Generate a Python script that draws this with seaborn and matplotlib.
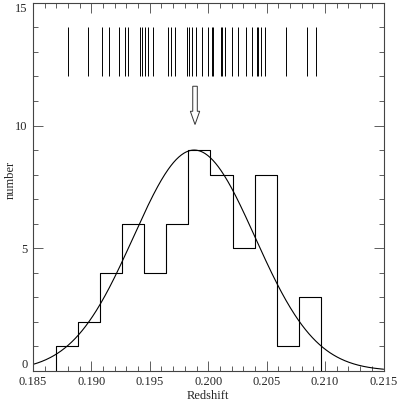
import numpy as np
import pandas as pd
import seaborn as sns
import matplotlib.pyplot as plt
from matplotlib.ticker import MultipleLocator, FormatStrFormatter

# histogram of redshifts (bin edges + counts)
bin_start = 0.18694
bin_width = 0.001893
counts = [1, 2, 4, 6, 4, 6, 9, 8, 5, 8, 1, 3]

# individual galaxy redshifts shown as ticks at the top
rug_z = [0.18797, 0.18973, 0.19093, 0.19153, 0.19239, 0.19288, 0.19311,
         0.19414, 0.19436, 0.19462, 0.19482, 0.19525, 0.19653, 0.19684,
         0.19713, 0.19821, 0.19838, 0.19859, 0.19896, 0.19944, 0.19997,
         0.20030, 0.20044, 0.20107, 0.20116, 0.20146, 0.20206, 0.20253,
         0.20319, 0.20371, 0.20415, 0.20429, 0.20450, 0.20486, 0.20662,
         0.20849, 0.20923]

# gaussian fit
g_mean = 0.1988
g_sigma = 0.0052
g_amp = 9.0

y_ticks = [0, 5, 10, 15]

edges = bin_start + bin_width * np.arange(len(counts) + 1)
hist_df = pd.DataFrame({"z": (edges[:-1] + edges[1:]) / 2, "n": counts})

zz = np.linspace(0.185, 0.215, 400)
fit_df = pd.DataFrame({"z": zz, "n": g_amp * np.exp(-(zz - g_mean) ** 2 / (2 * g_sigma ** 2))})

sns.set_style("ticks")
plt.rcParams["font.family"] = ["Liberation Serif", "DejaVu Serif"]

fig = plt.figure(figsize=(3.97, 4.01), dpi=100)
ax = fig.add_axes([0.083, 0.075, 0.883, 0.918])

sns.histplot(data=hist_df, x="z", weights="n", bins=list(edges), element="step",
             fill=False, color="black", linewidth=0.8, ax=ax)
# close the outline down to zero at both ends
ax.vlines([edges[0], edges[-1]], 0, [counts[0], counts[-1]], color="black", linewidth=0.8)
sns.lineplot(data=fit_df, x="z", y="n", color="black", linewidth=0.8, ax=ax)

ax.vlines(rug_z, 12, 14, color="black", linewidth=0.7)
ax.arrow(g_mean + 0.00007, 11.6, 0, -1.56, width=0.00039, head_width=0.0008,
         head_length=0.54, fill=False, edgecolor="#333333", linewidth=0.7,
         length_includes_head=True)

ax.set_xlim(0.185, 0.215)
ax.set_ylim(0, 15)
ax.xaxis.set_major_locator(MultipleLocator(0.005))
ax.xaxis.set_minor_locator(MultipleLocator(0.001))
ax.xaxis.set_major_formatter(FormatStrFormatter("%.3f"))
ax.set_yticks(y_ticks)
ax.yaxis.set_minor_locator(MultipleLocator(1))
ax.tick_params(which="both", direction="in", top=True, right=True,
               labelsize=9, width=0.6, color="#444444", pad=4)
ax.tick_params(which="major", length=7)
ax.tick_params(which="minor", length=3.5)
for s in ax.spines.values():
    s.set_linewidth(0.8)
    s.set_color("#444444")

# keep the end labels inside the figure / clear of the x labels
yt = ax.yaxis.get_major_ticks()
yt[0].label1.set_va("bottom")
yt[-1].label1.set_va("top")

ax.set_xlabel("Redshift", fontsize=9, labelpad=1)
ax.set_ylabel("number", fontsize=9)
ax.yaxis.set_label_coords(-0.045, 0.52)

fig.savefig("out.png", dpi=100)
